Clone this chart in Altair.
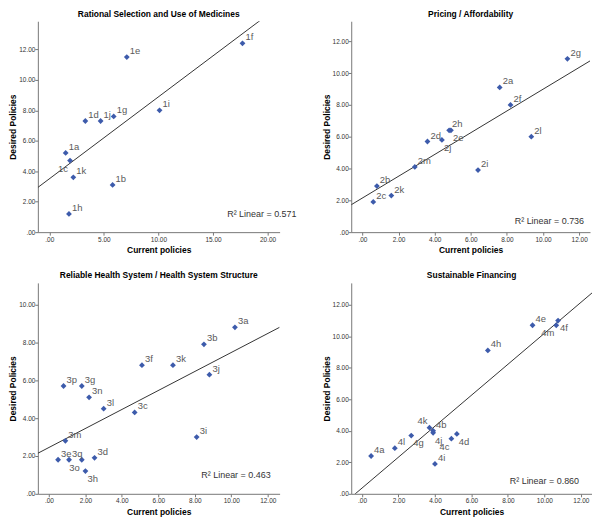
import altair as alt
import pandas as pd

# ---------------- data ----------------
p1_labels = ["1a", "1b", "1c", "1d", "1e", "1f", "1g", "1h", "1i", "1j", "1k"]
p1_current = [1.5, 5.8, 1.9, 3.3, 7.1, 17.7, 5.9, 1.8, 10.1, 4.7, 2.2]
p1_desired = [5.2, 3.1, 4.7, 7.3, 11.5, 12.4, 7.6, 1.2, 8.0, 7.3, 3.6]

p2_labels = ["2a", "2b", "2c", "2d", "2e", "2f", "2g", "2h", "2i", "2j", "2k", "2l", "2m"]
p2_current = [7.6, 0.8, 0.6, 3.6, 4.9, 8.2, 11.35, 4.8, 6.4, 4.4, 1.6, 9.35, 2.9]
p2_desired = [9.1, 2.9, 1.9, 5.7, 6.4, 8.0, 10.9, 6.4, 3.9, 5.8, 2.3, 6.0, 4.1]

p3_labels = ["3a", "3b", "3c", "3d", "3e", "3f", "3g", "3h", "3i", "3j", "3k", "3l",
             "3m", "3n", "3o", "3p", "3q"]
p3_current = [10.2, 8.5, 4.7, 2.5, 0.5, 5.1, 1.8, 2.0, 8.1, 8.8, 6.8, 3.0, 0.9, 2.2, 1.8, 0.8, 1.1]
p3_desired = [8.8, 7.9, 4.3, 1.9, 1.8, 6.8, 5.7, 1.2, 3.0, 6.3, 6.8, 4.5, 2.8, 5.1, 1.8, 5.7, 1.8]

p4_labels = ["4a", "4b", "4c", "4d", "4e", "4f", "4g", "4h", "4i", "4j", "4k", "4l", "4m"]
p4_current = [0.5, 3.9, 4.9, 5.2, 9.35, 10.75, 2.7, 6.9, 4.0, 3.9, 3.7, 1.8, 10.65]
p4_desired = [2.4, 4.0, 3.5, 3.8, 10.7, 11.0, 3.7, 9.1, 1.9, 3.87, 4.2, 2.9, 10.7]

titles = ["Rational Selection and Use of Medicines", "Pricing / Affordability",
          "Reliable Health System / Health System Structure", "Sustainable Financing"]
r2_values = ["0.571", "0.736", "0.463", "0.860"]

# ---------------- layout / style ----------------
FONT = "Liberation Sans"
BLUE = "#3d5bab"
LABEL_POS = {"1c": "ll", "2e": "lr", "2j": "lr", "3o": "ll", "3h": "lr",
             "4f": "lr", "4m": "ll", "4k": "ul", "4j": "lr", "4g": "lr",
             "4c": "ll", "4d": "lr"}
OFFSETS = {"ur": ("left", 3, -6), "lr": ("left", 2, 8),
           "ll": ("right", -2, 8), "ul": ("right", -2, -7)}

LABEL_EXPR = "datum.value == 0 ? '.00' : format(datum.value, '.2f')"


def panel(title, labels, xs, ys, r2, xdom, ydom, xticks, yticks, w, h, r2dx, r2dy):
    df = pd.DataFrame({"label": labels, "current": xs, "desired": ys})
    df["pos"] = [LABEL_POS.get(l, "ur") for l in labels]
    xenc = alt.X("current:Q",
                 scale=alt.Scale(domain=xdom, nice=False, zero=False),
                 axis=alt.Axis(values=xticks, title="Current policies", labelExpr=LABEL_EXPR,
                               titlePadding=3))
    yenc = alt.Y("desired:Q",
                 scale=alt.Scale(domain=ydom, nice=False, zero=False),
                 axis=alt.Axis(values=yticks, title="Desired Policies", labelExpr=LABEL_EXPR,
                               titlePadding=1, labelPadding=0))
    base = alt.Chart(df)
    line = base.transform_regression("current", "desired", extent=xdom).mark_line(
        color="#333333", strokeWidth=1, clip=True).encode(x=xenc, y=yenc)
    pts = base.mark_point(shape="diamond", filled=True, size=34, color=BLUE, opacity=1).encode(
        x=xenc, y=yenc)
    texts = []
    for key, (al, dx, dy) in OFFSETS.items():
        texts.append(base.transform_filter(alt.datum.pos == key).mark_text(
            align=al, dx=dx, dy=dy, baseline="middle", fontSize=9.5, font=FONT,
            color="#5a5a5a").encode(x=xenc, y=yenc, text="label:N"))
    r2t = alt.Chart(pd.DataFrame({"t": [f"R\u00b2 Linear = {r2}"]})).mark_text(
        align="right", baseline="middle", fontSize=9, font=FONT, color="#333333").encode(
        x=alt.value(w + r2dx), y=alt.value(h + r2dy), text="t:N")
    return alt.layer(line, pts, *texts, r2t).properties(
        width=w, height=h, title=alt.TitleParams(title, fontSize=8.5, fontWeight="bold",
                                                  font=FONT, offset=3, color="#000000"))


ev2 = [0, 2, 4, 6, 8, 10, 12]
p1 = panel(titles[0], p1_labels, p1_current, p1_desired, r2_values[0],
           [-1.05, 21.1], [0, 13.85], [0, 5, 10, 15, 20], ev2, 243, 212, 17, -18)
p2 = panel(titles[1], p2_labels, p2_current, p2_desired, r2_values[1],
           [-0.62, 12.6], [0, 13.26], ev2, ev2, 240, 212, -6, -11)
p3 = panel(titles[2], p3_labels, p3_current, p3_desired, r2_values[2],
           [-0.61, 12.65], [0, 11.15], ev2, [0, 2, 4, 6, 8, 10], 243, 212, -9, -19)
p4 = panel(titles[3], p4_labels, p4_current, p4_desired, r2_values[3],
           [-0.59, 12.61], [0, 13.39], ev2, ev2, 242, 212, -13, -13)

chart = alt.concat(
    p1, p2, p3, p4, columns=2,
    spacing={"row": 51, "column": 72}, bounds="flush",
).properties(padding=0).configure_view(stroke=None).configure_axis(
    grid=False, domainColor="#777777", tickColor="#777777", tickSize=3,
    labelFontSize=6.5, labelFont=FONT, labelColor="#333333", labelPadding=1,
    titleFont=FONT, titleFontSize=8.5, titleFontWeight="bold", titleColor="#000000",
    domainWidth=1, tickWidth=1,
)

chart.save("out.html", embed_options={"renderer": "svg", "actions": False})
